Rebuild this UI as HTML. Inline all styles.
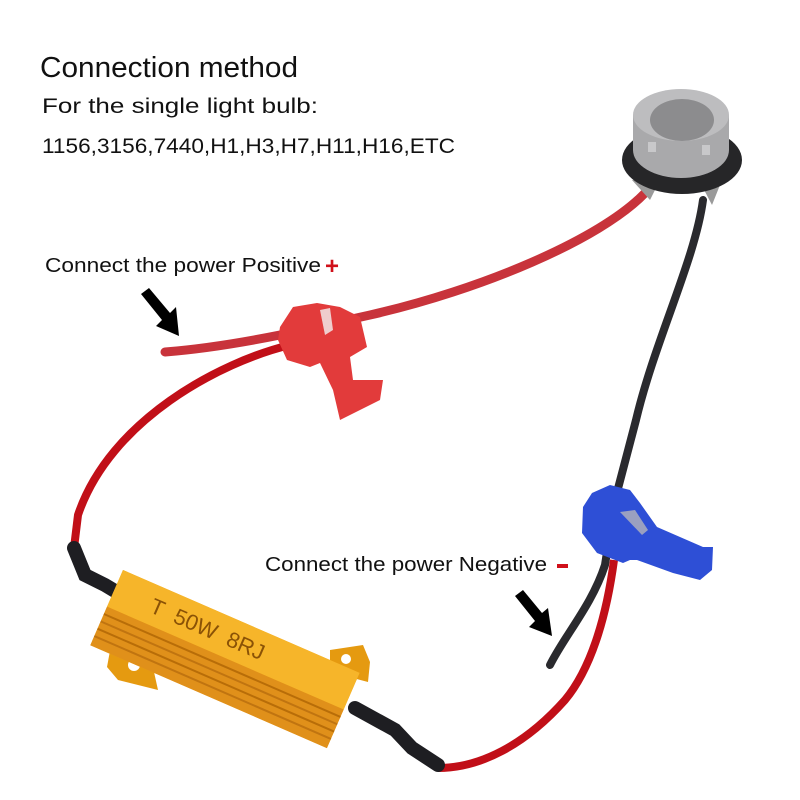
<!DOCTYPE html>
<html><head><meta charset="utf-8"><style>
html,body{margin:0;padding:0;background:#fff}
svg{display:block}
text{font-family:"Liberation Sans",Arial,sans-serif}
</style></head><body>
<svg width="800" height="800" viewBox="0 0 800 800" xmlns="http://www.w3.org/2000/svg">
<rect width="800" height="800" fill="#fff"/>
<text x="40" y="77" font-size="29" fill="#111" textLength="258" lengthAdjust="spacingAndGlyphs">Connection method</text>
<text x="42" y="113" font-size="21" fill="#111" textLength="276" lengthAdjust="spacingAndGlyphs">For the single light bulb:</text>
<text x="42" y="153" font-size="21" fill="#111" textLength="413" lengthAdjust="spacingAndGlyphs">1156,3156,7440,H1,H3,H7,H11,H16,ETC</text>
<text x="45" y="272" font-size="20" fill="#111" textLength="276" lengthAdjust="spacingAndGlyphs">Connect the power Positive</text>
<text x="325" y="274" font-size="24" font-weight="bold" fill="#d0101a">+</text>
<text x="265" y="571" font-size="20" fill="#111" textLength="282" lengthAdjust="spacingAndGlyphs">Connect the power Negative</text>
<rect x="557" y="564" width="11" height="4" fill="#d0101a"/>

<g fill="#000">
<polygon points="141,294 149,288 170,313 176,307 179,336 156,326 162,320"/>
<polygon points="515,596 523,590 542,613 548,608 552,636 529,627 535,621"/>
</g>

<path d="M645,193 C600,240 480,290 370,315 L280,335 C230,345 190,350 165,352" stroke="#c8333b" stroke-width="9" fill="none" stroke-linecap="round"/>
<path d="M290,345 C220,362 110,420 78,515 L74,548" stroke="#c10f18" stroke-width="8" fill="none"/>
<path d="M703,200 C695,260 655,340 636,420 L615,500 L605,565 C592,605 565,635 550,665" stroke="#2a2a2e" stroke-width="8" fill="none" stroke-linecap="round"/>
<path d="M614,560 C606,620 590,670 565,700 C525,745 480,768 438,768" stroke="#c10f18" stroke-width="8" fill="none"/>

<path d="M74,548 L85,575 L105,585 L135,603" stroke="#1e1e22" stroke-width="14" fill="none" stroke-linecap="round"/>
<path d="M355,708 L395,730 L412,748 L438,765" stroke="#1e1e22" stroke-width="14" fill="none" stroke-linecap="round"/>

<polygon points="112,640 150,654 158,690 118,680 107,667" fill="#e59a10"/>
<circle cx="134" cy="665" r="6" fill="#fff"/>
<polygon points="330,650 363,645 370,662 368,682 330,672" fill="#e59a10"/>
<circle cx="346" cy="659" r="5" fill="#fff"/>
<g transform="translate(123,570) rotate(23.5)">
<rect x="0" y="0" width="258" height="82" fill="#f0a41c"/>
<rect x="0" y="0" width="258" height="40" fill="#f6b52a"/>
<rect x="0" y="40" width="258" height="42" fill="#e0901a"/>
<line x1="0" y1="48" x2="258" y2="48" stroke="#b86d08" stroke-width="2"/>
<line x1="0" y1="56" x2="258" y2="56" stroke="#c07410" stroke-width="2"/>
<line x1="0" y1="64" x2="258" y2="64" stroke="#b86d08" stroke-width="2"/>
<line x1="0" y1="72" x2="258" y2="72" stroke="#c07410" stroke-width="2"/>
<text x="40" y="28" font-size="22" fill="#8a5206">T&#160;&#160;50W&#160;&#160;8RJ</text>
</g>

<polygon points="280,327 293,307 317,303 340,307 360,317 367,347 350,357 353,380 383,380 380,400 340,420 333,390 320,363 310,367 287,360 278,340" fill="#e23b3b"/>
<polygon points="320,310 330,308 333,330 325,335" fill="#f2f2f2" opacity="0.8"/>

<polygon points="592,493 610,485 630,490 640,503 657,527 703,547 713,547 712,570 700,580 673,573 637,560 630,560 623,563 597,553 582,533 583,507" fill="#2e4fd6"/>
<polygon points="620,512 635,510 648,530 642,535" fill="#9aa0c0"/>

<polygon points="632,180 650,200 660,180" fill="#9a9a9a"/>
<polygon points="700,182 712,205 722,180" fill="#9a9a9a"/>
<ellipse cx="682" cy="160" rx="60" ry="34" fill="#262628"/>
<ellipse cx="681" cy="150" rx="48" ry="28" fill="#a9a9ab"/>
<rect x="633" y="115" width="96" height="35" fill="#a9a9ab"/>
<ellipse cx="681" cy="115" rx="48" ry="26" fill="#bdbdbf"/>
<ellipse cx="682" cy="120" rx="32" ry="21" fill="#8c8c8e"/>
<rect x="648" y="142" width="8" height="10" fill="#c8c8ca"/>
<rect x="702" y="145" width="8" height="10" fill="#c8c8ca"/>
</svg>
</body></html>
